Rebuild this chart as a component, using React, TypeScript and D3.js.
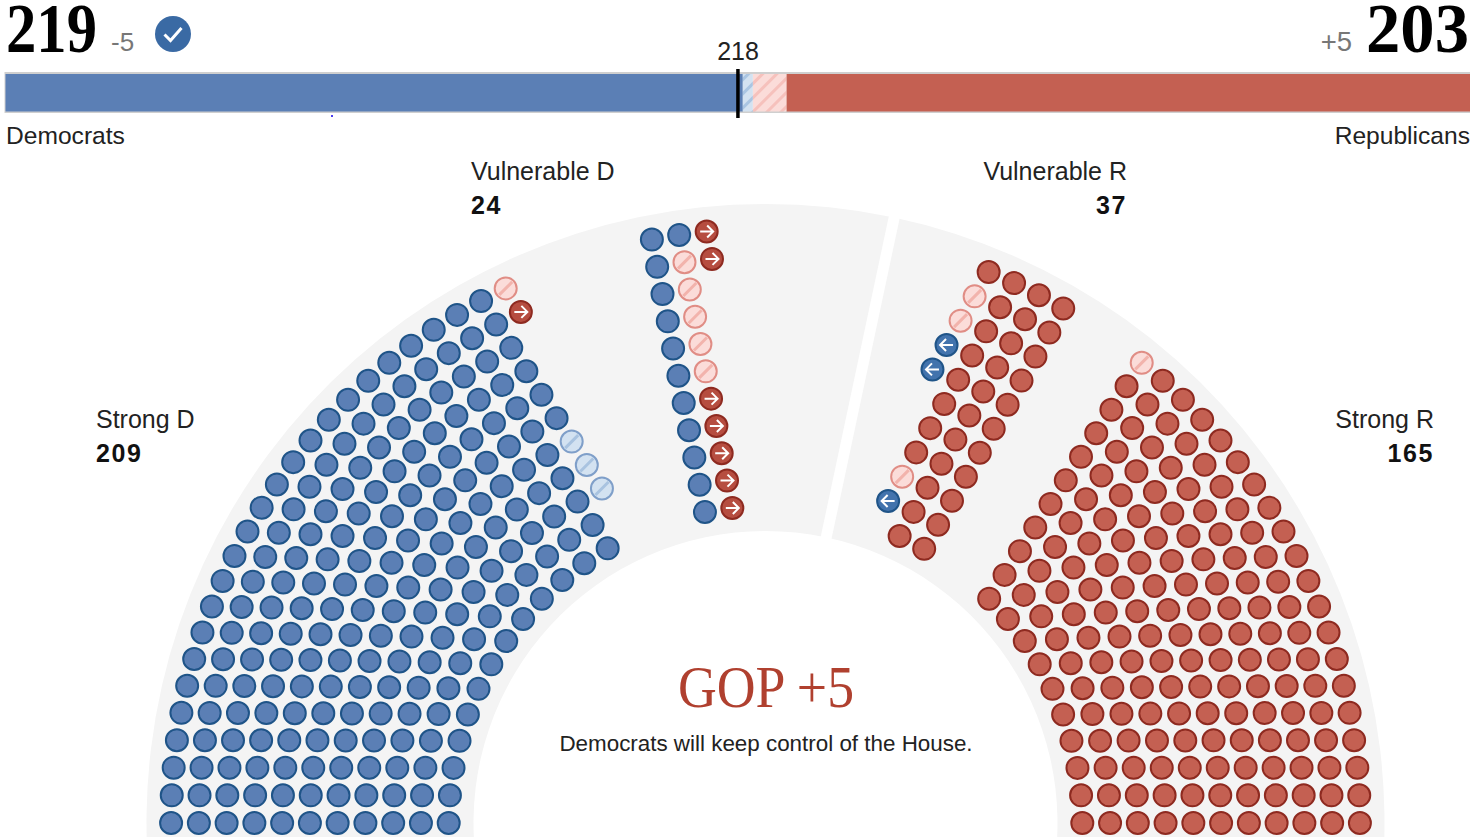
import React from "react";
import * as d3 from "d3";

// seats per concentric row, inner row first
const strongD = [13, 14, 16, 17, 18, 19, 20, 21, 22, 24, 25];
const vulnerableD = [2, 2, 2, 2, 2, 2, 2, 2, 2, 3, 3];
const vulnerableR = [2, 3, 3, 3, 3, 3, 4, 4, 4, 4, 4];
const strongR = [10, 11, 12, 13, 14, 15, 16, 17, 18, 19, 20];

type Rating = "leanD" | "leanR" | "flipD" | "flipR";
type Change = [number, number, Rating]; // row, seat counted from the block's anchor, rating

const strongDChanges: Change[] = [
  [10, 24, "leanR"], [9, 23, "flipR"],
  [4, 17, "leanD"], [3, 16, "leanD"], [2, 15, "leanD"],
];
const vulnerableDChanges: Change[] = [
  [10, 2, "flipR"], [9, 2, "flipR"], [9, 1, "leanR"], [8, 1, "leanR"], [7, 1, "leanR"],
  [6, 1, "leanR"], [5, 1, "leanR"], [4, 1, "flipR"], [3, 1, "flipR"], [2, 1, "flipR"],
  [1, 1, "flipR"], [0, 1, "flipR"],
];
const vulnerableRChanges: Change[] = [
  [9, 3, "leanR"], [8, 3, "leanR"], [7, 3, "flipD"], [6, 3, "flipD"],
  [2, 2, "leanR"], [1, 2, "flipD"],
];
const strongRChanges: Change[] = [[10, 19, "leanR"]];

const totalSeats = 435;
const majority = 218;
const demChange = "-5";
const repChange = "+5";

const blue = "#5b7fb5";
const blueEdge = "#1f5488";
const red = "#c46052";
const redEdge = "#8e2a20";
const sans = "'Liberation Sans', Arial, sans-serif";
const serif = "'Liberation Serif', serif";

const cx = 765.5;
const cy = 823;
const seatGap = 27.7;
const dotR = 11;

const rowRadius = d3.scaleLinear().domain([0, 10]).range([316.8, 594.4]);
const deg = d3.scaleLinear().domain([0, 180]).range([-Math.PI / 2, Math.PI / 2]);

const blocks = [
  { party: "D", rows: strongD, changes: strongDChanges, anchor: 0, dir: 1 },
  { party: "D", rows: vulnerableD, changes: vulnerableDChanges, anchor: 78.98, dir: 1 },
  { party: "R", rows: vulnerableR, changes: vulnerableRChanges, anchor: 120.06, dir: -1 },
  { party: "R", rows: strongR, changes: strongRChanges, anchor: 180, dir: -1 },
];

const seats = blocks.flatMap((b) =>
  b.rows.flatMap((count, row) =>
    d3.range(count).map((i) => {
      const r = rowRadius(row);
      const a = deg(b.anchor) + (b.dir * i * seatGap) / r;
      const [x, y] = d3.pointRadial(a, r);
      const change = b.changes.find((c) => c[0] === row && c[1] === i);
      return { x: cx + x, y: cy + y, party: b.party, rating: change ? change[2] : null };
    })
  )
);

const isSolid = (p: string) => (s: any) =>
  (s.party === p && !s.rating) || s.rating === "flip" + p;
const barCounts = [
  { key: "solidD", n: seats.filter(isSolid("D")).length, fill: blue },
  { key: "leanD", n: seats.filter((s) => s.rating === "leanD").length, fill: "url(#hatchBlue)" },
  { key: "leanR", n: seats.filter((s) => s.rating === "leanR").length, fill: "url(#hatchRed)" },
  { key: "solidR", n: seats.filter(isSolid("R")).length, fill: red },
];
const barStarts = d3.cumsum([0, ...barCounts.map((d) => d.n)]);
const barX = d3.scaleLinear().domain([0, totalSeats]).range([5.5, 1470]);

// runs a little past the half circle so it reaches the bottom of the picture
const band = d3.arc();
const bandPath = band({
  innerRadius: 292,
  outerRadius: 619,
  startAngle: deg(-5),
  endAngle: deg(185),
}) as string;
const gapA = deg(102);
const gapIn = d3.pointRadial(gapA, 285);
const gapOut = d3.pointRadial(gapA, 630);

function Seat({ s }: { s: any }) {
  const { x, y, party, rating } = s;
  if (rating === "leanD" || rating === "leanR") {
    const isD = rating === "leanD";
    return (
      <g transform={`translate(${x},${y})`}>
        <circle r={dotR} fill={isD ? "#d3e2f1" : "#fbdcd9"} stroke={isD ? "#7f9fc9" : "#e08d85"} strokeWidth={2} />
        <line x1={-6.5} y1={6.5} x2={6.5} y2={-6.5} stroke={isD ? "#a9c3e0" : "#f2b3ac"} strokeWidth={3} />
      </g>
    );
  }
  if (rating === "flipD" || rating === "flipR") {
    const isD = rating === "flipD";
    const d = isD ? -1 : 1;
    return (
      <g transform={`translate(${x},${y})`}>
        <circle r={dotR} fill={isD ? "#4273ad" : "#b64d40"} stroke={isD ? "#1f5488" : "#8e2a20"} strokeWidth={2} />
        <path d={`M${-6.5 * d},0H${6.5 * d}M${0.5 * d},-6L${6.5 * d},0L${0.5 * d},6`}
          fill="none" stroke="#fff" strokeWidth={2} />
      </g>
    );
  }
  return (
    <circle cx={x} cy={y} r={dotR} fill={party === "D" ? blue : red}
      stroke={party === "D" ? blueEdge : redEdge} strokeWidth={2} />
  );
}

export default function App() {
  const demSeats = barCounts[0].n;
  const repSeats = barCounts[3].n;
  return (
    <svg width={1470} height={837} style={{ position: "absolute", left: 0, top: 0, display: "block" }}>
      <defs>
        <pattern id="hatchBlue" width={10} height={10} patternUnits="userSpaceOnUse" patternTransform="rotate(45)">
          <rect width={10} height={10} fill="#d3e2f1" />
          <rect width={3} height={10} fill="#aac5e2" />
        </pattern>
        <pattern id="hatchRed" width={10} height={10} patternUnits="userSpaceOnUse" patternTransform="rotate(45)">
          <rect width={10} height={10} fill="#fbdcd9" />
          <rect width={3} height={10} fill="#f6c1bc" />
        </pattern>
      </defs>

      {/* header */}
      <text x={6} y={52} fontFamily={serif} fontWeight="bold" fontSize={70} textLength={91} lengthAdjust="spacingAndGlyphs" fill="#000">{demSeats}</text>
      <text x={111} y={51} fontFamily={sans} fontSize={26} fill="#777">{demChange}</text>
      <circle cx={173} cy={34} r={18} fill="#3a6aa4" />
      <path d="M164.5,34.5L170.5,40.5L181.5,28" fill="none" stroke="#fff" strokeWidth={3} />
      <text x={1469} y={52} textAnchor="end" fontFamily={serif} fontWeight="bold" fontSize={70} textLength={103} lengthAdjust="spacingAndGlyphs" fill="#000">{repSeats}</text>
      <text x={1352} y={51} textAnchor="end" fontFamily={sans} fontSize={27.5} fill="#777">{repChange}</text>

      {/* seat bar */}
      <rect x={barX(0)} y={73} width={barX(totalSeats) - barX(0)} height={39} fill="none" stroke="#cfcfcf" strokeWidth={2} />
      {barCounts.map((d, i) => (
        <rect key={d.key} x={barX(barStarts[i])} y={74} width={barX(barStarts[i + 1]) - barX(barStarts[i])} height={37.5} fill={d.fill} />
      ))}
      <rect x={331} y={115} width={2} height={2} fill="#4a3df0" />
      <line x1={barX(majority) - 1.5} x2={barX(majority) - 1.5} y1={69} y2={118} stroke="#000" strokeWidth={3.5} />
      <text x={738} y={60} textAnchor="middle" fontFamily={sans} fontSize={25} fill="#222">{majority}</text>
      <text x={6} y={144} fontFamily={sans} fontSize={24.6} fill="#222">Democrats</text>
      <text x={1470} y={144} textAnchor="end" fontFamily={sans} fontSize={24.6} fill="#222">Republicans</text>

      {/* hemicycle */}
      <g transform={`translate(${cx},${cy})`}>
        <path d={bandPath} fill="#f4f4f4" />
        <line x1={gapIn[0]} y1={gapIn[1]} x2={gapOut[0]} y2={gapOut[1]} stroke="#fff" strokeWidth={11} />
      </g>
      {seats.map((s, i) => <Seat key={i} s={s} />)}

      {/* block labels */}
      <text x={471} y={180} fontFamily={sans} fontSize={25} fill="#222">Vulnerable D</text>
      <text x={471} y={214} fontFamily={sans} fontWeight="bold" fontSize={25} letterSpacing={1.6} fill="#111">{d3.sum(vulnerableD)}</text>
      <text x={1127} y={180} textAnchor="end" fontFamily={sans} fontSize={25} fill="#222">Vulnerable R</text>
      <text x={1127} y={214} textAnchor="end" fontFamily={sans} fontWeight="bold" fontSize={25} letterSpacing={1.6} fill="#111">{d3.sum(vulnerableR)}</text>
      <text x={96} y={428} fontFamily={sans} fontSize={25} fill="#222">Strong D</text>
      <text x={96} y={462} fontFamily={sans} fontWeight="bold" fontSize={25} letterSpacing={1.6} fill="#111">{d3.sum(strongD)}</text>
      <text x={1434} y={428} textAnchor="end" fontFamily={sans} fontSize={25} fill="#222">Strong R</text>
      <text x={1434} y={462} textAnchor="end" fontFamily={sans} fontWeight="bold" fontSize={25} letterSpacing={1.6} fill="#111">{d3.sum(strongR)}</text>

      {/* centre */}
      <text x={766} y={707} textAnchor="middle" fontFamily={serif} fontSize={60} textLength={176} lengthAdjust="spacingAndGlyphs" fill="#b0402f">GOP +5</text>
      <text x={766} y={751} textAnchor="middle" fontFamily={sans} fontSize={22.4} fill="#222">Democrats will keep control of the House.</text>
    </svg>
  );
}
